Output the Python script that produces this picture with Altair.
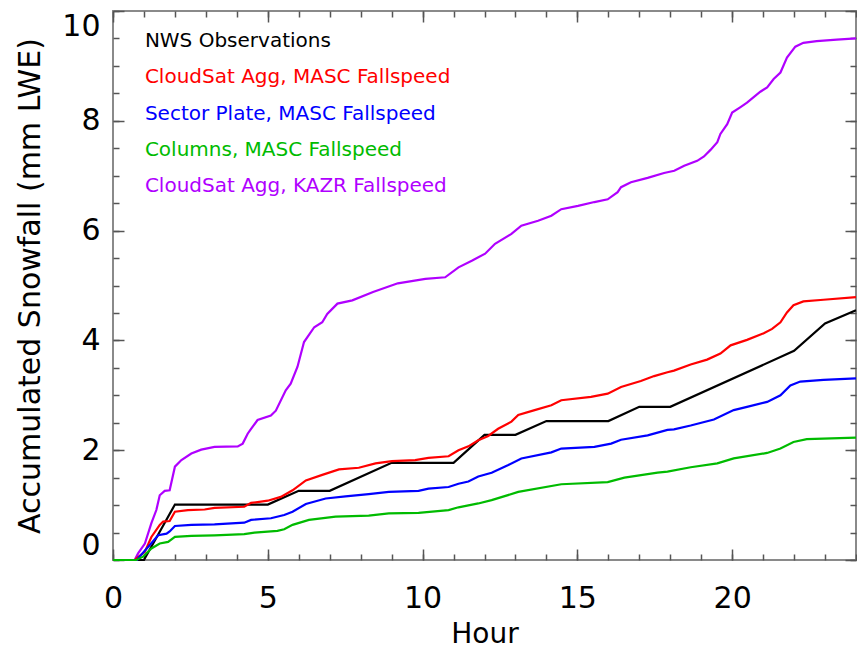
import altair as alt
import pandas as pd

series_names = ["NWS Observations", "CloudSat Agg, MASC Fallspeed",
                "Sector Plate, MASC Fallspeed", "Columns, MASC Fallspeed",
                "CloudSat Agg, KAZR Fallspeed"]
series_colors = ["#000000", "#ff0000", "#0000ff", "#00bb00", "#b000ff"]

nws_hour = [0, 1, 2, 5, 6, 7, 9, 11, 12, 13, 14, 16, 17, 18, 22, 23, 24]
nws_val = [0, 0, 1.01, 1.01, 1.26, 1.26, 1.77, 1.77, 2.28, 2.28, 2.53, 2.53,
           2.79, 2.79, 3.81, 4.31, 4.55]

red_hour = [0, 0.72, 0.76, 1.03, 1.24, 1.51, 1.62, 1.83, 2.0, 2.42, 2.96, 3.28,
            4.24, 4.46, 5.0, 5.42, 5.80, 6.23, 6.76, 7.30, 7.94, 8.48, 9.01,
            9.76, 10.19, 10.84, 11.16, 11.48, 11.80, 12.12, 12.44, 12.87, 13.09,
            13.62, 14.16, 14.48, 15.44, 15.98, 16.41, 17.05, 17.48, 17.91,
            18.12, 18.66, 19.19, 19.62, 19.95, 20.48, 21.02, 21.29, 21.56,
            21.77, 21.98, 22.30, 22.95, 24.0]
red_val = [0, 0, 0.03, 0.15, 0.42, 0.64, 0.70, 0.71, 0.88, 0.91, 0.92, 0.95,
           0.97, 1.04, 1.08, 1.15, 1.27, 1.45, 1.55, 1.65, 1.68, 1.76, 1.80,
           1.82, 1.86, 1.89, 2.00, 2.07, 2.18, 2.26, 2.39, 2.52, 2.64,
           2.73, 2.82, 2.91, 2.97, 3.03, 3.15, 3.26, 3.35, 3.42,
           3.45, 3.56, 3.65, 3.76, 3.91, 4.01, 4.13, 4.21, 4.33,
           4.51, 4.64, 4.71, 4.74, 4.79]

blue_hour = [0, 0.78, 0.81, 1.14, 1.46, 1.73, 1.83, 2.0, 2.53, 3.28, 4.24, 4.46,
             5.10, 5.53, 5.80, 6.23, 6.87, 7.51, 8.26, 8.91, 9.87, 10.19, 10.84,
             11.16, 11.48, 11.80, 12.23, 12.77, 13.19, 14.16, 14.48, 15.55,
             16.09, 16.41, 17.27, 17.91, 18.12, 18.66, 19.41, 20.05, 20.48,
             21.13, 21.56, 21.88, 22.20, 22.95, 24.0]
blue_val = [0, 0, 0.03, 0.24, 0.45, 0.48, 0.52, 0.62, 0.64, 0.65, 0.68, 0.73,
            0.76, 0.82, 0.88, 1.02, 1.12, 1.16, 1.20, 1.24, 1.26, 1.30, 1.33,
            1.39, 1.43, 1.52, 1.59, 1.73, 1.85, 1.96, 2.03, 2.06,
            2.12, 2.19, 2.27, 2.37, 2.38, 2.45, 2.56, 2.73, 2.79,
            2.88, 3.00, 3.18, 3.25, 3.28, 3.31]

green_hour = [0, 0.75, 0.97, 1.24, 1.51, 1.78, 2.0, 2.53, 3.28, 4.24, 4.57,
              5.31, 5.53, 5.80, 6.33, 7.19, 8.26, 8.91, 9.87, 10.84, 11.16,
              11.80, 12.23, 13.09, 14.48, 15.98, 16.52, 17.59, 17.91, 18.66,
              19.52, 20.05, 21.13, 21.56, 21.98, 22.41, 24.0]
green_val = [0, 0, 0.06, 0.21, 0.30, 0.33, 0.42, 0.44, 0.45, 0.47, 0.50,
             0.53, 0.56, 0.64, 0.73, 0.79, 0.81, 0.85, 0.86, 0.91, 0.96,
             1.03, 1.09, 1.24, 1.38, 1.42, 1.50, 1.59, 1.61, 1.69,
             1.76, 1.85, 1.95, 2.03, 2.15, 2.20, 2.23]

purple_hour = [0, 0.70, 0.81, 1.03, 1.24, 1.40, 1.51, 1.67, 1.83, 2.0, 2.21,
               2.53, 2.85, 3.28, 4.03, 4.19, 4.35, 4.46, 4.67, 5.10, 5.26,
               5.58, 5.74, 5.96, 6.17, 6.50, 6.76, 6.92, 7.25, 7.73, 8.4, 9.2,
               10.09, 10.73, 11.16, 11.59, 12.02, 12.34, 12.87, 13.19, 13.73,
               14.16, 14.48, 15.02, 15.55, 15.98, 16.30, 16.41, 16.73, 17.27,
               17.80, 18.13, 18.45, 18.87, 19.09, 19.30, 19.52, 19.62, 19.84,
               20.0, 20.27, 20.48, 20.91, 21.13, 21.34, 21.56, 21.77, 22.04,
               22.30, 22.73, 23.38, 24.0]
purple_val = [0, 0, 0.12, 0.30, 0.67, 0.91, 1.18, 1.26, 1.27, 1.70, 1.82,
              1.94, 2.01, 2.06, 2.07, 2.12, 2.30, 2.39, 2.55, 2.63, 2.72,
              3.09, 3.21, 3.52, 3.97, 4.24, 4.33, 4.48, 4.67, 4.73, 4.88, 5.04,
              5.12, 5.15, 5.33, 5.45, 5.58, 5.76, 5.94, 6.09, 6.18,
              6.27, 6.39, 6.45, 6.52, 6.57, 6.70, 6.79, 6.88, 6.96,
              7.05, 7.09, 7.18, 7.27, 7.35, 7.47, 7.61, 7.76, 7.94,
              8.15, 8.25, 8.33, 8.53, 8.61, 8.76, 8.88, 9.15, 9.35,
              9.42, 9.45, 9.48, 9.50]

x_major = [0, 5, 10, 15, 20]
x_minor = list(range(0, 25))
y_major = [0, 2, 4, 6, 8, 10]
y_minor = [i * 0.5 for i in range(0, 21)]

# drawing order (first drawn at the bottom)
draw = [
    (series_names[0], nws_hour, nws_val),
    (series_names[4], purple_hour, purple_val),
    (series_names[1], red_hour, red_val),
    (series_names[2], blue_hour, blue_val),
    (series_names[3], green_hour, green_val),
]
rows = []
for name, hrs, vals in draw:
    for h, v in zip(hrs, vals):
        rows.append({"series": name, "hour": h, "value": v})
df = pd.DataFrame(rows)

legend_df = pd.DataFrame({"label": series_names, "color": series_colors,
                          "row": list(range(len(series_names)))})
legend_df["hour"] = 1.03
legend_df["value"] = 9.45 - 0.66 * legend_df["row"]

W, H = 743, 549
FONT = "DejaVu Sans"
xs = alt.Scale(domain=[0, 24], nice=False, zero=False)
ys = alt.Scale(domain=[0, 10], nice=False)

lines = alt.Chart(df).mark_line(strokeWidth=2.2, clip=False).encode(
    x=alt.X("hour:Q", scale=xs,
            axis=alt.Axis(orient="bottom", values=x_major, ticks=False,
                          domain=False, grid=False, labelPadding=23,
                          labelFlush=False,
                          labelFontSize=30, labelFont=FONT, labelColor="#000",
                          format="d", title="Hour", titleFontSize=28,
                          titleFont=FONT, titleFontWeight="normal",
                          titlePadding=7, titleColor="#000")),
    y=alt.Y("value:Q", scale=ys,
            axis=alt.Axis(orient="left", values=y_major, ticks=False,
                          domain=False, grid=False, labelPadding=13,
                          labelFlush=True,
                          labelFontSize=30, labelFont=FONT, labelColor="#000",
                          format="d", title="Accumulated Snowfall (mm LWE)",
                          titleFontSize=30, titleFont=FONT,
                          titleFontWeight="normal", titlePadding=16,
                          titleColor="#000")),
    color=alt.Color("series:N", scale=alt.Scale(domain=series_names,
                                                range=series_colors),
                    legend=None),
)


def tick_layer(xorient, yorient, xvals, yvals, size):
    return alt.Chart(df).mark_line(strokeOpacity=0).encode(
        x=alt.X("hour:Q", scale=xs,
                axis=alt.Axis(orient=xorient, offset=-H, values=xvals,
                              labels=False, domain=False, grid=False,
                              tickSize=size, tickColor="#555", tickWidth=1.5,
                              title=None)),
        y=alt.Y("value:Q", scale=ys,
                axis=alt.Axis(orient=yorient, offset=-W, values=yvals,
                              labels=False, domain=False, grid=False,
                              tickSize=size, tickColor="#555", tickWidth=1.5,
                              title=None)),
        detail="series:N",
    )


t1 = tick_layer("top", "right", x_major, y_major, 11)
t2 = tick_layer("top", "right", x_minor, y_minor, 6)
t3 = tick_layer("bottom", "left", x_major, y_major, 11)
t4 = tick_layer("bottom", "left", x_minor, y_minor, 6)

legend_text = alt.Chart(legend_df).mark_text(
    align="left", baseline="middle", fontSize=20, font=FONT
).encode(
    x=alt.X("hour:Q", scale=xs, axis=None),
    y=alt.Y("value:Q", scale=ys, axis=None),
    text="label:N",
    color=alt.Color("color:N", scale=None),
)

chart = alt.layer(t1, t2, t3, t4, lines, legend_text).resolve_axis(
    x="independent", y="independent"
).properties(
    width=W, height=H, autosize=alt.AutoSizeParams(type="none"),
    padding={"left": 113, "top": 11, "right": 1, "bottom": 91},
    background="white",
).configure_view(stroke="#8a8a8a", strokeWidth=2)

chart.save("out.html", embed_options={"renderer": "svg", "actions": False})
